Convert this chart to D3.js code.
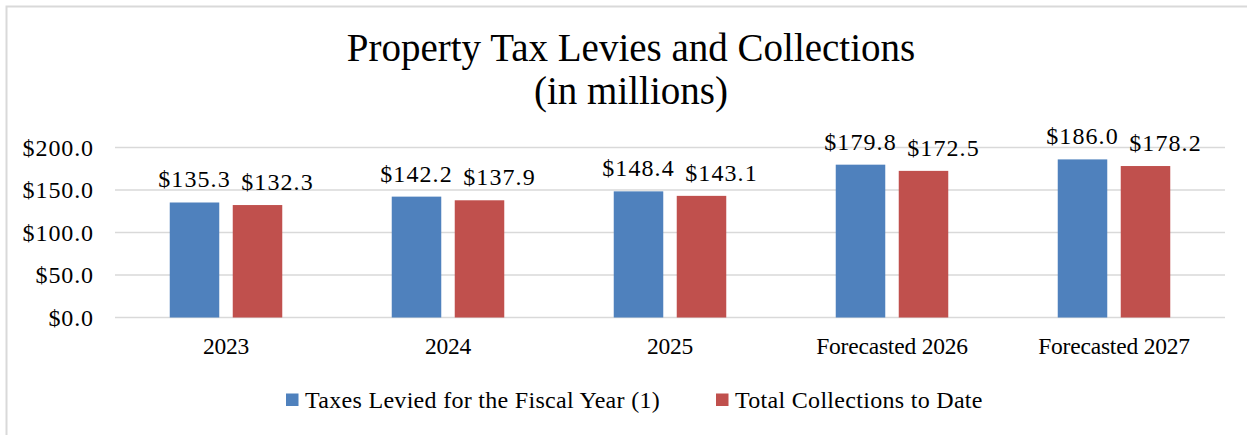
<!DOCTYPE html>
<html><head><meta charset="utf-8">
<script src="https://cdn.jsdelivr.net/npm/d3@7"></script>
<style>body{margin:0;background:#fff}svg{display:block}text{font-family:"Liberation Serif",serif;fill:#000}</style>
</head><body><svg id="c" width="1247" height="435"></svg>
<script>
const categories = ["2023", "2024", "2025", "Forecasted 2026", "Forecasted 2027"];
const seriesNames = ["Taxes Levied for the Fiscal Year (1)", "Total Collections to Date"];
const taxesLevied = [135.3, 142.2, 148.4, 179.8, 186.0];
const collections = [132.3, 137.9, 143.1, 172.5, 178.2];
const yTicks = [0, 50, 100, 150, 200];
const colors = ["#4f81bd", "#c0504d"];
const titleLines = ["Property Tax Levies and Collections", "(in millions)"];

const svg = d3.select("#c");
svg.append("rect").attr("x", 6.5).attr("y", 6.5).attr("width", 1260).attr("height", 450)
  .attr("fill", "#fff").attr("stroke", "#d9d9d9").attr("stroke-width", 2);

const x0 = d3.scaleBand().domain(categories).range([115, 1225]).paddingInner(0).paddingOuter(0);
const x1 = d3.scaleBand().domain(seriesNames).range([0, x0.bandwidth()]).paddingInner(0.214).paddingOuter(0.869);
const y = d3.scaleLinear().domain([0, 200]).range([317.5, 147.5]);
const fmt = v => "$" + d3.format(".1f")(v);
const labelShift = [0, 20]; // data labels of the second series sit to the right, as in the source

// gridlines
svg.append("g").selectAll("line").data(yTicks).join("line")
  .attr("x1", 115).attr("x2", 1225).attr("y1", d => y(d)).attr("y2", d => y(d))
  .attr("stroke", "#d9d9d9").attr("stroke-width", 1.3);

// y axis labels
const yAxis = svg.append("g").attr("transform", "translate(105,0)")
  .call(d3.axisLeft(y).tickValues(yTicks).tickFormat(fmt).tickSize(0).tickPadding(11));
yAxis.select(".domain").remove();
yAxis.selectAll("text").attr("font-size", 24).attr("letter-spacing", 0.9)
  .attr("font-family", "Liberation Serif").attr("fill", "#000");

// x axis labels
const xAxis = svg.append("g").attr("transform", "translate(0,317.5)")
  .call(d3.axisBottom(x0).tickSize(0).tickPadding(20));
xAxis.select(".domain").remove();
xAxis.selectAll("text").attr("font-size", 23.5).attr("letter-spacing", -0.2)
  .attr("font-family", "Liberation Serif").attr("fill", "#000");

const rows = categories.map((c, i) => ({cat: c, vals: [taxesLevied[i], collections[i]]}));
const g = svg.append("g").selectAll("g").data(rows).join("g")
  .attr("transform", d => `translate(${x0(d.cat)},0)`);
g.selectAll("rect").data(d => d.vals.map((v, k) => ({v, k}))).join("rect")
  .attr("x", d => x1(seriesNames[d.k])).attr("width", x1.bandwidth())
  .attr("y", d => y(d.v)).attr("height", d => y(0) - y(d.v))
  .attr("fill", d => colors[d.k]);
g.selectAll("text").data(d => d.vals.map((v, k) => ({v, k}))).join("text")
  .attr("x", d => x1(seriesNames[d.k]) + x1.bandwidth() / 2 + labelShift[d.k])
  .attr("y", d => y(d.v) - 15)
  .attr("text-anchor", "middle").attr("font-size", 24).attr("letter-spacing", 1.1)
  .text(d => fmt(d.v));

// title
svg.append("g").selectAll("text").data(titleLines).join("text")
  .attr("x", 631).attr("y", (d, i) => 61 + i * 43)
  .attr("text-anchor", "middle").attr("font-size", 39).text(d => d);

// legend
const legendX = [286, 716];
const lg = svg.append("g").selectAll("g").data(seriesNames).join("g")
  .attr("transform", (d, i) => `translate(${legendX[i]},0)`);
lg.append("rect").attr("x", 0).attr("y", 393.5).attr("width", 12.5).attr("height", 12.5)
  .attr("fill", (d, i) => colors[i]);
lg.append("text").attr("x", 19).attr("y", 408).attr("font-size", 24).attr("letter-spacing", 0.3).text(d => d);
</script></body></html>
